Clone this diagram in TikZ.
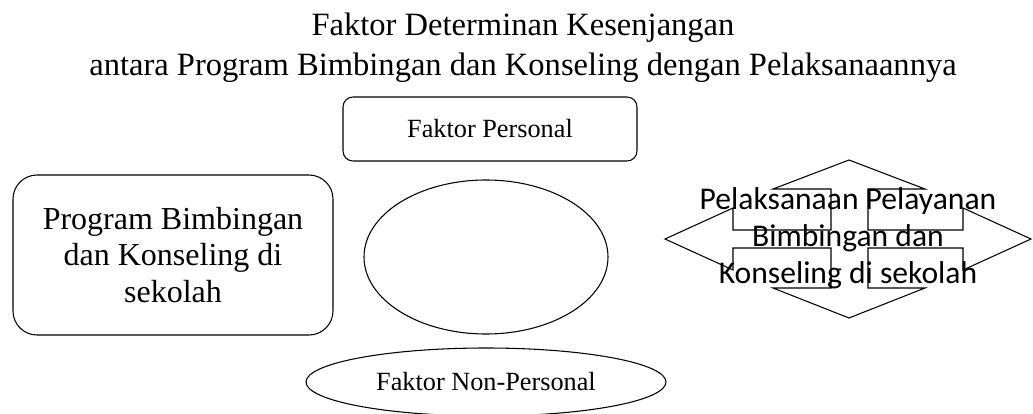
\documentclass[tikz,border=0pt]{standalone}
\usepackage{fontspec}
\setmainfont{Liberation Serif}
\newfontfamily\carlito{Carlito}
\usetikzlibrary{shapes.geometric}
\begin{document}
\begin{tikzpicture}[x=0.75pt,y=-0.75pt,line width=0.8pt,
  titletxt/.style={font=\fontsize{24.4}{29.3}\selectfont,inner sep=0pt},
  roundbox/.style={draw,align=center,inner sep=0pt},
  oval/.style={draw,ellipse,inner sep=0pt},
  smalltxt/.style={font=\fontsize{19.7}{23}\selectfont},
  bigtxt/.style={font=\fontsize{24}{27.4}\selectfont},
  quadtxt/.style={font=\carlito\fontsize{23.7}{27.75}\selectfont,align=center,inner sep=0pt}]
\useasboundingbox (0,0) rectangle (1033,414);

% title
\node[titletxt,anchor=base] (t1) at (523,36) {Faktor Determinan Kesenjangan};
\node[titletxt,anchor=base] (t2) at (523,75) {antara Program Bimbingan dan Konseling dengan Pelaksanaannya};

% Faktor Personal
\node[roundbox,smalltxt,rounded corners=7.5pt,minimum width=220.5pt,minimum height=48pt] (fp) at (490,129) {Faktor Personal};

% Program box
\node[roundbox,bigtxt,rounded corners=18pt,minimum width=240pt,minimum height=120pt] (prog) at (173,255) {Program Bimbingan\\dan Konseling di\\sekolah};

% middle ellipse
\node[oval,minimum width=183pt,minimum height=115.5pt] (mid) at (486,257) {};

% Faktor Non-Personal
\node[oval,smalltxt,minimum width=270pt,minimum height=51pt] (fnp) at (486,382) {Faktor Non-Personal};

% quad arrow
\draw[line join=miter] (849,160) -- (925,189) -- (868,189) -- (868,230) -- (963,230) -- (963,208)
  -- (1031,239) -- (963,270) -- (963,248) -- (868,248) -- (868,288) -- (925,288)
  -- (849,318) -- (773,288) -- (831,288) -- (831,248) -- (733,248) -- (733,270)
  -- (665,239) -- (733,208) -- (733,230) -- (831,230) -- (831,189) -- (773,189) -- cycle;
\node[quadtxt] (qt) at (848,238) {Pelaksanaan Pelayanan\\Bimbingan dan\\Konseling di sekolah};
\end{tikzpicture}
\end{document}
